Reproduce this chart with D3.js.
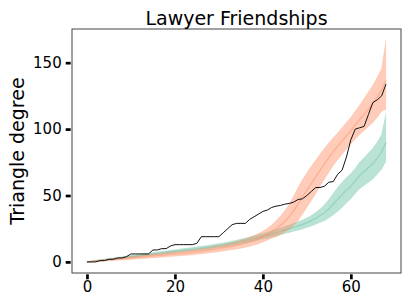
<!DOCTYPE html>
<html>
<head>
<meta charset="utf-8">
<script src="https://cdn.jsdelivr.net/npm/d3@7"></script>
<style>
  body { margin: 0; background: #fff; }
  figure { margin: 0; }
  svg { display: block; font-family: 'DejaVu Sans', sans-serif; }
</style>
</head>
<body>
<figure id="chart"></figure>
<script>
// sorted triangle degree per node rank (0..68)
const observed = [
  0, 0, 0, 1, 1, 2, 2, 3, 3, 4,
  6, 6, 6, 6, 6, 9, 9, 10, 10, 12,
  13, 13, 13, 13, 13, 14, 19, 19, 19, 19,
  19, 22, 25, 28, 29, 29, 29, 32, 34, 36,
  38, 39, 41, 42, 42.5, 43.5, 44, 45, 47, 47.5,
  50, 53, 56, 56, 57, 60, 60.5, 66, 69, 79,
  92, 100, 101, 102, 111, 120, 122, 125, 134
]

// orange model runs: lower edge, middle, upper edge of the bundle
const orangeLow = [
  0, 0, 0.2, 0.4, 0.6, 0.8, 1.0, 1.2, 1.4, 1.6,
  1.8, 2.1, 2.3, 2.6, 2.8, 3.1, 3.3, 3.6, 3.8, 4.1,
  4.3, 4.6, 4.8, 5.1, 5.4, 5.8, 6.1, 6.5, 6.9, 7.3,
  7.7, 8.2, 8.7, 9.2, 9.7, 10.3, 11.0, 11.8, 12.7, 13.7,
  15.0, 16.3, 17.8, 19.0, 20.5, 22.5, 24.5, 27.5, 31, 36,
  41, 46, 51.5, 57, 62.5, 67.5, 72.5, 77, 81, 85,
  89, 92.5, 96, 99, 102, 105, 109, 113.5, 115
]
const orangeMid = [
  0, 0.3, 0.6, 0.9, 1.2, 1.5, 1.8, 2.1, 2.4, 2.7,
  3.0, 3.3, 3.6, 3.9, 4.2, 4.5, 4.8, 5.1, 5.4, 5.7,
  6.0, 6.3, 6.6, 6.9, 7.3, 7.7, 8.1, 8.5, 9.0, 9.5,
  10.0, 10.6, 11.2, 11.8, 12.5, 13.3, 14.2, 15.2, 16.3, 17.5,
  19.0, 20.8, 22.8, 25.0, 27.5, 30.5, 34.0, 38.5, 43.5, 49,
  54, 59, 64, 69, 74, 78.5, 83, 87, 91, 95,
  99, 103, 107, 111, 115, 119, 124, 129.5, 137
]
const orangeHigh = [
  0, 0.6, 1.0, 1.4, 1.8, 2.2, 2.6, 3.0, 3.4, 3.8,
  4.2, 4.5, 4.9, 5.2, 5.6, 5.9, 6.3, 6.6, 7.0, 7.3,
  7.7, 8.0, 8.4, 8.7, 9.2, 9.6, 10.1, 10.5, 11.1, 11.7,
  12.3, 13.0, 13.7, 14.4, 15.3, 16.3, 17.4, 18.6, 19.9, 21.3,
  23.0, 25.3, 27.8, 31, 34.5, 38.5, 43.5, 49.5, 56, 62,
  67, 72, 76.5, 81, 85.5, 89.5, 93.5, 97, 101, 105,
  109, 113.5, 118, 123, 128, 133, 139, 145.5, 167
]

// green model runs
const greenLow = [
  0, 0.2, 0.5, 0.8, 1.1, 1.4, 1.8, 2.1, 2.5, 2.8,
  3.2, 3.5, 3.9, 4.2, 4.6, 5.0, 5.3, 5.7, 6.1, 6.4,
  6.8, 7.2, 7.5, 7.9, 8.3, 8.6, 9.0, 9.4, 9.8, 10.3,
  10.8, 11.2, 11.8, 12.3, 13.0, 13.6, 14.3, 15.0, 15.7, 16.5,
  17.2, 17.9, 18.7, 19.6, 20.5, 21.4, 22.2, 23.0, 23.8, 24.8,
  25.9, 27.0, 28.3, 29.8, 31.0, 33.0, 35.5, 38.0, 41.0, 44.5,
  47.5, 51.5, 55.0, 57.5, 60.0, 62.5, 66.0, 70.0, 76.0
]
const greenMid = [
  0, 0.4, 0.8, 1.2, 1.6, 2.0, 2.4, 2.8, 3.2, 3.6,
  4.0, 4.4, 4.8, 5.2, 5.6, 6.0, 6.4, 6.8, 7.2, 7.6,
  8.0, 8.4, 8.8, 9.2, 9.6, 10.0, 10.4, 10.8, 11.3, 11.8,
  12.3, 12.8, 13.4, 14.0, 14.7, 15.4, 16.1, 16.9, 17.7, 18.5,
  19.3, 20.1, 21.0, 22.0, 23.0, 24.0, 25.0, 26.0, 27.0, 28.2,
  29.5, 31.0, 32.8, 34.8, 37.0, 40.0, 43.5, 47.0, 50.5, 54.0,
  57.0, 61.0, 65.0, 68.0, 71.0, 74.0, 78.0, 83.0, 90.0
]
const greenHigh = [
  0, 0.6, 1.1, 1.6, 2.1, 2.6, 3.0, 3.5, 3.9, 4.4,
  4.8, 5.3, 5.7, 6.2, 6.6, 7.0, 7.5, 7.9, 8.3, 8.8,
  9.2, 9.6, 10.1, 10.5, 10.9, 11.4, 11.8, 12.2, 12.8, 13.3,
  13.8, 14.4, 15.0, 15.7, 16.4, 17.2, 17.9, 18.8, 19.7, 20.5,
  21.4, 22.3, 23.3, 24.4, 25.5, 26.6, 27.8, 29.0, 30.2, 31.6,
  33.1, 35.0, 37.3, 39.8, 43.0, 47.0, 51.5, 56.0, 60.0, 63.5,
  66.5, 70.5, 75.0, 78.5, 82.0, 85.5, 90.0, 96.0, 112.0
]

const xTicks = [0, 20, 40, 60]
const yTicks = [0, 50, 100, 150]
const titleText = 'Lawyer Friendships'
const yLabelText = 'Triangle degree'

let margin = { top: 29, right: 10, bottom: 35, left: 72 }
let width = 411 - margin.left - margin.right
let height = 308 - margin.top - margin.bottom

let svg = d3.select('figure#chart')
  .append('svg')
  .attr('width', width + margin.left + margin.right)
  .attr('height', height + margin.top + margin.bottom)
  .append('g')
  .attr('transform', `translate(${margin.left}, ${margin.top})`)

// Scales, with the 5% padding matplotlib adds
let n = observed.length
let xPad = (n - 1) * 0.05
let yMax = d3.max([observed, orangeHigh, greenHigh].flat())
let yPad = yMax * 0.05
let x = d3.scaleLinear().domain([-xPad, n - 1 + xPad]).range([0, width])
let y = d3.scaleLinear().domain([-yPad, yMax + yPad]).range([height, 0])

let line = d3.line().x((d, i) => x(i)).y(d => y(d))

function drawBundle(low, mid, high, color) {
  let band = d3.area()
    .x((d, i) => x(i))
    .y0(d => y(d))
    .y1((d, i) => y(high[i]))
  svg.append('path')
    .attr('d', band(low))
    .attr('fill', color)
    .attr('opacity', 0.45)
  // faint edges, stronger middle run
  svg.append('path')
    .attr('d', line(low))
    .attr('fill', 'none')
    .attr('stroke', color)
    .attr('opacity', 0.2)
  svg.append('path')
    .attr('d', line(high))
    .attr('fill', 'none')
    .attr('stroke', color)
    .attr('opacity', 0.2)
  svg.append('path')
    .attr('d', line(mid))
    .attr('fill', 'none')
    .attr('stroke', color)
    .attr('stroke-width', 1.5)
    .attr('opacity', 0.4)
}

drawBundle(greenLow, greenMid, greenHigh, '#66c2a5')
drawBundle(orangeLow, orangeMid, orangeHigh, '#fc8d62')

svg.append('path')
  .attr('d', line(observed))
  .attr('fill', 'none')
  .attr('stroke', '#111')
  .attr('stroke-width', 1)

// Frame
svg.append('rect')
  .attr('width', width)
  .attr('height', height)
  .attr('fill', 'none')
  .attr('stroke', '#444')
  .attr('stroke-width', 1)

// Axes, ticks sit just off the frame
let xAxis = d3.axisBottom(x)
  .tickValues(xTicks)
  .tickSizeInner(5)
  .tickSizeOuter(0)
  .tickPadding(2)
let yAxis = d3.axisLeft(y)
  .tickValues(yTicks)
  .tickSizeInner(5)
  .tickSizeOuter(0)
  .tickPadding(4)

let gx = svg.append('g')
  .attr('transform', `translate(0, ${height + 1.3})`)
  .call(xAxis)
let gy = svg.append('g')
  .attr('transform', 'translate(-1.3, 0)')
  .call(yAxis)

for (let g of [gx, gy]) {
  g.select('.domain').remove()
  g.selectAll('line').attr('stroke', '#000').attr('stroke-width', 2.7)
  g.selectAll('text')
    .attr('fill', '#000')
    .attr('font-size', '15px')
    .attr('font-family', 'DejaVu Sans, sans-serif')
}

svg.append('text')
  .attr('x', width / 2)
  .attr('y', -4.5)
  .attr('text-anchor', 'middle')
  .attr('font-size', '19px')
  .text(titleText)

svg.append('text')
  .attr('transform', `translate(${24 - margin.left}, ${height / 2}) rotate(-90)`)
  .attr('text-anchor', 'middle')
  .attr('font-size', '19px')
  .text(yLabelText)
</script>
</body>
</html>
